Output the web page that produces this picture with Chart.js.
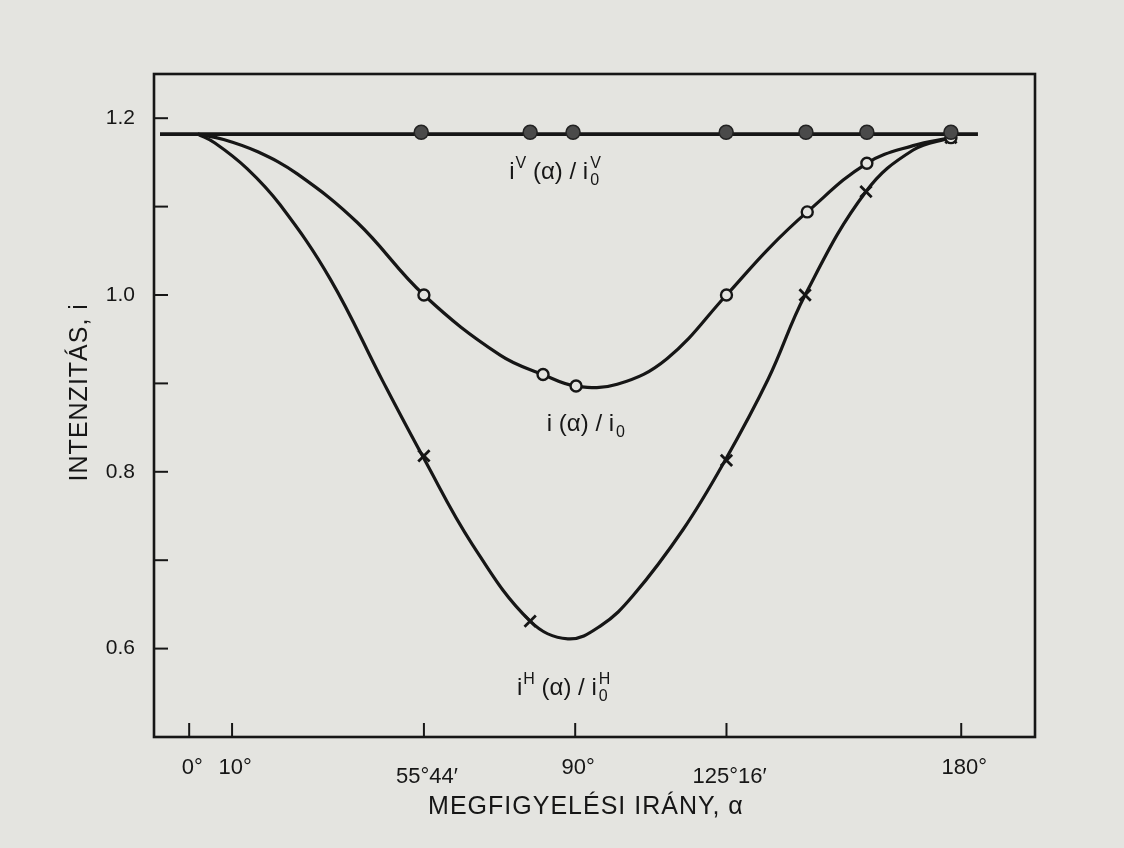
<!DOCTYPE html>
<html>
<head>
<meta charset="utf-8">
<script src="https://cdn.jsdelivr.net/npm/chart.js@4.4.1/dist/chart.umd.min.js"></script>
<style>
  html, body { margin: 0; padding: 0; background: #e4e4e0; }
  #wrap { width: 1124px; height: 848px; position: relative; }
  canvas { display: block; }
</style>
</head>
<body>
<div id="wrap"><canvas id="c" width="1124" height="848"></canvas></div>
<script>
// ---- axis ticks ----
const xTickValues = [0, 10, 54.73, 90, 125.27, 180];
const xTickLabels = ['0°', '10°', '55°44′', '90°', '125°16′', '180°'];
const xTickLowered = [false, false, true, false, true, false];
const yTickValues = [0.6, 0.7, 0.8, 0.9, 1.0, 1.1, 1.2];
const yLabelledTicks = [0.6, 0.8, 1.0, 1.2];

// ---- i^V line (horizontal) and filled circles ----
const vLineAngles = [-6.8, 183.9];
const vLineValues = [1.182, 1.182];
const vMarkAngles = [54.1, 79.5, 89.5, 125.2, 143.8, 158, 177.6];
const vMarkValues = [1.184, 1.184, 1.184, 1.184, 1.184, 1.184, 1.184];

// ---- i(α)/i0 curve and open circles ----
const iCurveAngles = [2, 8, 16, 25.2, 39.2, 54.73, 72.5, 82.5, 90.2, 99.8, 111.4, 125.27, 135, 144.1, 158, 168.8, 177.6];
const iCurveValues = [1.182, 1.176, 1.162, 1.137, 1.082, 1.0, 0.932, 0.910, 0.897, 0.899, 0.928, 1.0, 1.052, 1.094, 1.149, 1.169, 1.178];
const iMarkAngles = [54.73, 82.5, 90.2, 125.27, 144.1, 158, 177.6];
const iMarkValues = [1.0, 0.910, 0.897, 1.0, 1.094, 1.149, 1.178];

// ---- i^H(α)/i0^H curve and crosses ----
const hCurveAngles = [2, 6, 13.5, 21.2, 32.9, 45.2, 54.73, 66, 79.5, 88.3, 96, 103.5, 115.2, 124.9, 135, 143.6, 157.8, 168.8, 177.6];
const hCurveValues = [1.182, 1.172, 1.143, 1.102, 1.018, 0.902, 0.815, 0.718, 0.631, 0.611, 0.626, 0.660, 0.735, 0.8125, 0.905, 1.0, 1.117, 1.164, 1.178];
const hMarkAngles = [54.73, 79.5, 125.27, 143.6, 157.8, 177.6];
const hMarkValues = [0.818, 0.631, 0.813, 1.0, 1.117, 1.178];

// ---- curve labels (position in data units) ----
const curveLabels = [
  { x: 85.3, y: 1.131, base: 'i', sup: 'V', mid: ' (α) / i', sub: '0', sup2: 'V' },
  { x: 92.5, y: 0.846, base: 'i', sup: '',  mid: ' (α) / i', sub: '0', sup2: '' },
  { x: 87.3, y: 0.547, base: 'i', sup: 'H', mid: ' (α) / i', sub: '0', sup2: 'H' }
];
const xTitle = 'MEGFIGYELÉSI IRÁNY, α';
const yTitle = 'INTENZITÁS, i';

const INK = '#161616';
const PAPER = '#e4e4e0';
const FONT = '"Liberation Sans", Arial, sans-serif';

const toXY = (xs, ys) => xs.map((x, i) => ({ x: x, y: ys[i] }));

const framePlugin = {
  id: 'frame',
  afterDraw(chart) {
    const ctx = chart.ctx, a = chart.chartArea;
    const xs = chart.scales.x, ys = chart.scales.y;
    ctx.save();
    ctx.strokeStyle = INK;
    ctx.lineWidth = 2.6;
    ctx.strokeRect(a.left, a.top, a.right - a.left, a.bottom - a.top);
    ctx.lineWidth = 2;
    // y ticks (inward)
    yTickValues.forEach(v => {
      const p = ys.getPixelForValue(v);
      ctx.beginPath(); ctx.moveTo(a.left, p); ctx.lineTo(a.left + 14, p); ctx.stroke();
    });
    // x ticks (upward)
    xTickValues.forEach(v => {
      const p = xs.getPixelForValue(v);
      ctx.beginPath(); ctx.moveTo(p, a.bottom); ctx.lineTo(p, a.bottom - 14); ctx.stroke();
    });
    // x tick labels
    ctx.fillStyle = INK;
    ctx.font = '22px ' + FONT;
    ctx.textAlign = 'center';
    ctx.textBaseline = 'middle';
    xTickValues.forEach((v, i) => {
      const p = xs.getPixelForValue(v);
      ctx.fillText(xTickLabels[i], p + 3, a.bottom + (xTickLowered[i] ? 40 : 31));
    });
    // axis titles
    ctx.font = '25px ' + FONT;
    if ('letterSpacing' in ctx) ctx.letterSpacing = '1px';
    ctx.fillText(xTitle, xs.getPixelForValue(92.5), a.bottom + 70);
    ctx.save();
    ctx.translate(80, ys.getPixelForValue(0.89));
    ctx.rotate(-Math.PI / 2);
    ctx.fillText(yTitle, 0, 0);
    ctx.restore();
    if ('letterSpacing' in ctx) ctx.letterSpacing = '0px';
    // curve labels
    ctx.textBaseline = 'alphabetic';
    ctx.textAlign = 'left';
    curveLabels.forEach(L => {
      const big = '24px ' + FONT, small = '16px ' + FONT;
      ctx.font = big; const wBase = ctx.measureText(L.base).width;
      const wMid = ctx.measureText(L.mid).width;
      ctx.font = small;
      const wSup = L.sup ? ctx.measureText(L.sup).width + 1 : 0;
      const wSub = Math.max(ctx.measureText(L.sub).width, L.sup2 ? ctx.measureText(L.sup2).width : 0);
      const total = wBase + wSup + wMid + wSub + 2;
      let x = xs.getPixelForValue(L.x) - total / 2;
      const y = ys.getPixelForValue(L.y);
      ctx.font = big; ctx.fillText(L.base, x, y); x += wBase;
      if (L.sup) { ctx.font = small; ctx.fillText(L.sup, x + 1, y - 11); x += wSup; }
      ctx.font = big; ctx.fillText(L.mid, x, y); x += wMid + 2;
      ctx.font = small;
      ctx.fillText(L.sub, x, y + 6);
      if (L.sup2) ctx.fillText(L.sup2, x, y - 11);
    });
    ctx.restore();
  }
};

new Chart(document.getElementById('c'), {
  type: 'scatter',
  data: {
    datasets: [
      { label: 'iV marks', data: toXY(vMarkAngles, vMarkValues), showLine: false,
        pointStyle: 'circle', pointRadius: 7, pointBackgroundColor: '#4a4a4a',
        pointBorderColor: '#222', pointBorderWidth: 1.5, order: 0 },
      { label: 'i marks', data: toXY(iMarkAngles, iMarkValues), showLine: false,
        pointStyle: 'circle', pointRadius: 5.5, pointBackgroundColor: PAPER,
        pointBorderColor: INK, pointBorderWidth: 2.4, order: 1 },
      { label: 'iH marks', data: toXY(hMarkAngles, hMarkValues), showLine: false,
        pointStyle: 'crossRot', pointRadius: 8, pointBorderColor: INK,
        pointBorderWidth: 2.8, order: 2 },
      { label: 'iV line', data: toXY(vLineAngles, vLineValues), showLine: true,
        borderColor: INK, borderWidth: 3.8, pointRadius: 0, order: 3 },
      { label: 'i curve', data: toXY(iCurveAngles, iCurveValues), showLine: true,
        borderColor: INK, borderWidth: 3.2, pointRadius: 0, tension: 0.4, order: 4 },
      { label: 'iH curve', data: toXY(hCurveAngles, hCurveValues), showLine: true,
        borderColor: INK, borderWidth: 3.2, pointRadius: 0, tension: 0.4, order: 5 }
    ]
  },
  options: {
    responsive: false,
    animation: false,
    layout: { padding: { left: 0, right: 89, top: 74, bottom: 0 } },
    plugins: { legend: { display: false }, tooltip: { enabled: false } },
    scales: {
      x: {
        type: 'linear', min: -8.2, max: 197.2,
        afterBuildTicks: s => { s.ticks = xTickValues.map(v => ({ value: v })); },
        ticks: { display: false },
        grid: { display: false }, border: { display: false },
        afterFit: s => { s.height = 111; }
      },
      y: {
        type: 'linear', min: 0.5, max: 1.25,
        afterBuildTicks: s => { s.ticks = yTickValues.map(v => ({ value: v })); },
        ticks: {
          color: INK, font: { family: FONT, size: 21 }, padding: 19,
          callback: v => yLabelledTicks.some(t => Math.abs(t - v) < 1e-6) ? v.toFixed(1) : ''
        },
        grid: { display: false, drawTicks: false }, border: { display: false },
        afterFit: s => { s.width = 154; }
      }
    }
  },
  plugins: [framePlugin]
});
</script>
</body>
</html>
